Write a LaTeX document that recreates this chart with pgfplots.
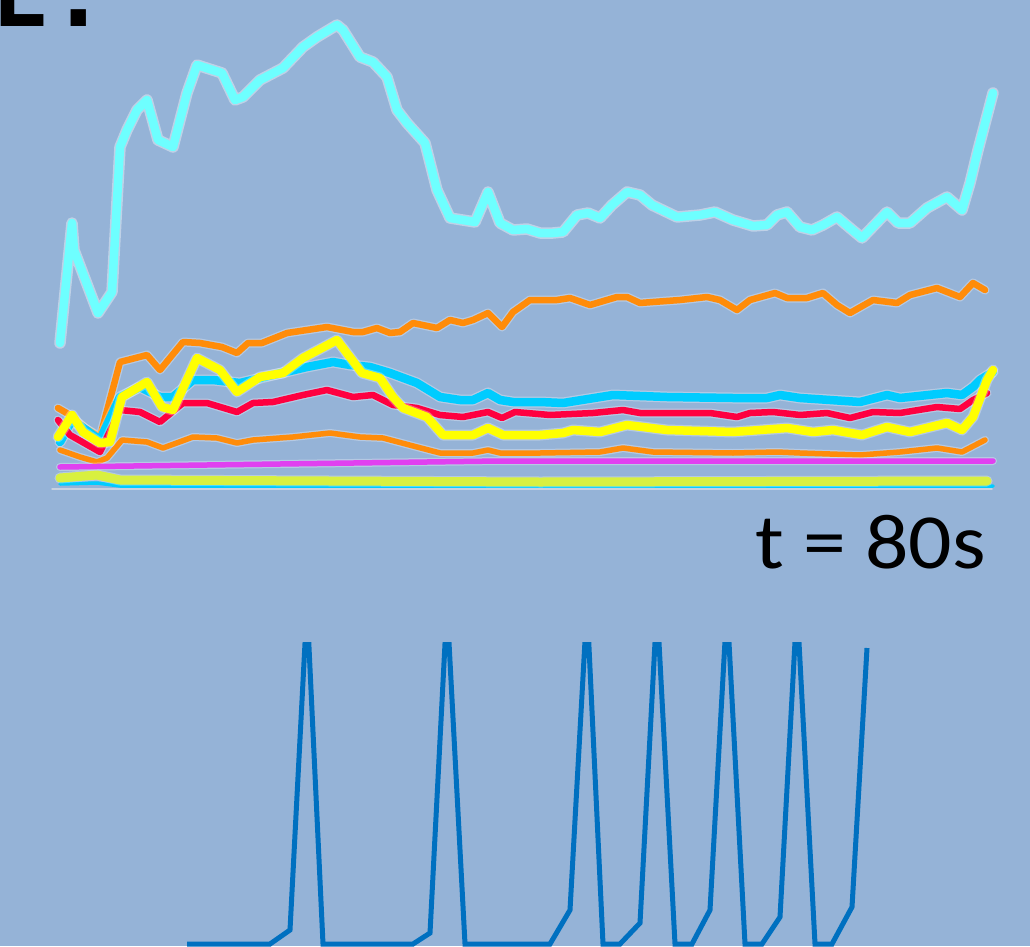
\documentclass[border=0pt]{standalone}
\usepackage{pgfplots}
\pgfplotsset{compat=1.18}
\usepackage{pgfplotstable}
\usepackage{fontspec}
\newfontfamily\carlito{Carlito}
\newfontfamily\monob{DejaVu Sans Mono}
\definecolor{bg}{RGB}{149,179,215}
\definecolor{lcyan}{RGB}{110,255,255}
\definecolor{dcyan}{RGB}{0,204,255}
\definecolor{orng}{RGB}{255,140,10}
\definecolor{redd}{RGB}{255,0,64}
\definecolor{yell}{RGB}{255,255,0}
\definecolor{magn}{RGB}{224,64,240}
\definecolor{ygreen}{RGB}{216,240,64}
\definecolor{spike}{RGB}{0,112,192}
\definecolor{basegrey}{RGB}{200,210,225}

\pgfplotstableread{
x y
60 343
72 223
74 250
98 313
112 292
120 147
127 130
137 110
147 100
158 140
173 147
187 93
197 65
222 73
235 100
243 97
260 80
283 68
303 47
317 37
337 25
343 30
360 57
373 62
387 77
397 110
407 123
425 143
437 190
450 218
475 222
488 192
500 223
513 230
527 229
540 233
553 233
563 232
577 215
588 213
600 218
612 205
627 192
640 195
652 205
677 217
700 215
715 212
733 220
753 226
767 225
777 215
787 212
800 227
812 230
823 225
837 217
850 228
862 238
887 212
898 223
910 223
927 208
947 197
962 210
970 183
978 150
993 93
}\lightcyan

\pgfplotstableread{
x y
58 408
70 415
85 428
100 437
120 362
147 355
160 370
183 342
200 343
222 347
237 353
248 343
262 343
287 333
307 330
327 327
353 332
363 332
377 328
390 333
400 332
413 323
437 328
450 320
463 323
473 320
488 313
502 327
513 312
530 300
557 300
570 298
590 305
617 297
627 297
640 303
653 302
680 300
707 297
720 300
737 310
750 300
775 293
787 298
807 298
823 293
837 305
850 313
873 300
897 303
910 295
937 288
960 297
973 283
985 290
}\orangeup

\pgfplotstableread{
x y
60 442
72 420
100 440
120 397
140 387
160 397
173 397
193 380
213 380
240 383
273 375
307 367
333 362
350 365
370 367
390 373
417 383
440 397
460 400
473 400
488 393
500 400
513 402
540 402
563 403
613 395
667 397
733 398
767 398
780 395
800 398
860 402
887 395
900 398
947 393
962 395
973 387
980 380
993 372
}\deepcyan

\pgfplotstableread{
x y
58 420
70 435
100 452
120 410
140 412
160 422
183 403
207 403
237 412
253 403
273 402
303 395
327 390
353 397
373 395
393 405
417 408
440 415
463 417
488 412
502 418
515 412
550 415
593 413
623 410
640 413
710 413
737 417
750 413
773 412
800 415
827 413
850 418
873 412
900 413
937 407
960 409
973 400
987 393
}\redline

\pgfplotstableread{
x y
58 437
72 415
83 432
100 443
110 442
122 397
147 382
162 407
173 410
197 358
220 370
237 392
260 377
283 373
303 358
337 340
362 373
380 378
393 397
403 408
427 417
443 435
473 435
488 428
503 435
540 435
563 433
573 430
600 432
627 425
667 430
733 432
787 428
813 432
833 430
862 435
887 427
910 432
947 423
962 430
973 417
987 380
993 370
}\yellowline

\pgfplotstableread{
x y
60 450
80 457
97 462
107 458
122 440
147 442
163 448
193 437
217 438
237 443
253 440
293 437
330 433
360 437
383 438
417 447
440 453
473 453
488 450
500 453
540 453
600 452
623 448
653 452
733 453
777 452
800 453
860 455
900 452
937 448
962 452
985 440
}\orangelow

\pgfplotstableread{
x y
60 467
500 461
993 461
}\magline

\pgfplotstableread{
x y
60 478
97 475
120 480
540 482
987 481
}\ygline

\pgfplotstableread{
x y
60 484
97 483
120 486
993 486
}\thincyan

\pgfplotstableread{
x y
187 944
270 944
290 930
307 605
323 944
413 944
430 933
447 605
465 944
550 944
570 910
587 605
603 944
620 944
640 923
657 605
675 944
692 944
710 910
727 605
745 944
762 944
780 917
797 605
815 944
832 944
852 907
867 648
}\spikes

\begin{document}
\begin{tikzpicture}
\useasboundingbox (0,0) rectangle (1030pt,946pt);
\clip (0,0) rectangle (1030pt,946pt);
\fill[bg] (0,0) rectangle (1030pt,946pt);
\begin{axis}[at={(0,0)}, anchor=south west, scale only axis,
  width=1030pt, height=946pt, xmin=0, xmax=1030, ymin=0, ymax=946,
  y dir=reverse, hide axis, clip=true,
  every axis plot/.append style={line join=round, line cap=round, mark=none}]
\addplot[basegrey, line width=1.5pt] coordinates {(52,489) (992,489)};
\addplot[white, opacity=0.4, line width=11.5pt] table {\lightcyan};
\addplot[lcyan, line width=8.5pt] table {\lightcyan};
\addplot[white, opacity=0.3, line width=9pt] table {\orangeup};
\addplot[orng, line width=6.5pt] table {\orangeup};
\addplot[white, opacity=0.3, line width=8pt] table {\orangelow};
\addplot[orng, line width=5.5pt] table {\orangelow};
\addplot[white, opacity=0.3, line width=11pt] table {\deepcyan};
\addplot[dcyan, line width=8.5pt] table {\deepcyan};
\addplot[white, opacity=0.3, line width=9pt] table {\redline};
\addplot[redd, line width=6.5pt] table {\redline};
\addplot[white, opacity=0.3, line width=11pt] table {\yellowline};
\addplot[yell, line width=8.5pt] table {\yellowline};
\addplot[white, opacity=0.3, line width=8pt] table {\magline};
\addplot[magn, line width=5.5pt] table {\magline};
\addplot[dcyan, line width=3.5pt] table {\thincyan};
\addplot[white, opacity=0.3, line width=11pt] table {\ygline};
\addplot[ygreen, line width=9pt] table {\ygline};
\node[anchor=base west, inner sep=0pt, xscale=1.1, font=\carlito\fontsize{78}{82}\selectfont] at (axis cs:755,568) {t = 80s};
\node[anchor=base west, inner sep=0pt, font=\monob\bfseries\fontsize{94}{100}\selectfont] at (axis cs:-6.5,27) {E.};
\end{axis}
\begin{axis}[at={(0,0)}, anchor=south west, scale only axis,
  width=1030pt, height=304pt, xmin=0, xmax=1030, ymin=642, ymax=946,
  y dir=reverse, hide axis, clip=true]
\addplot[spike, line width=5pt, line join=miter, mark=none] table {\spikes};
\end{axis}
\end{tikzpicture}
\end{document}
